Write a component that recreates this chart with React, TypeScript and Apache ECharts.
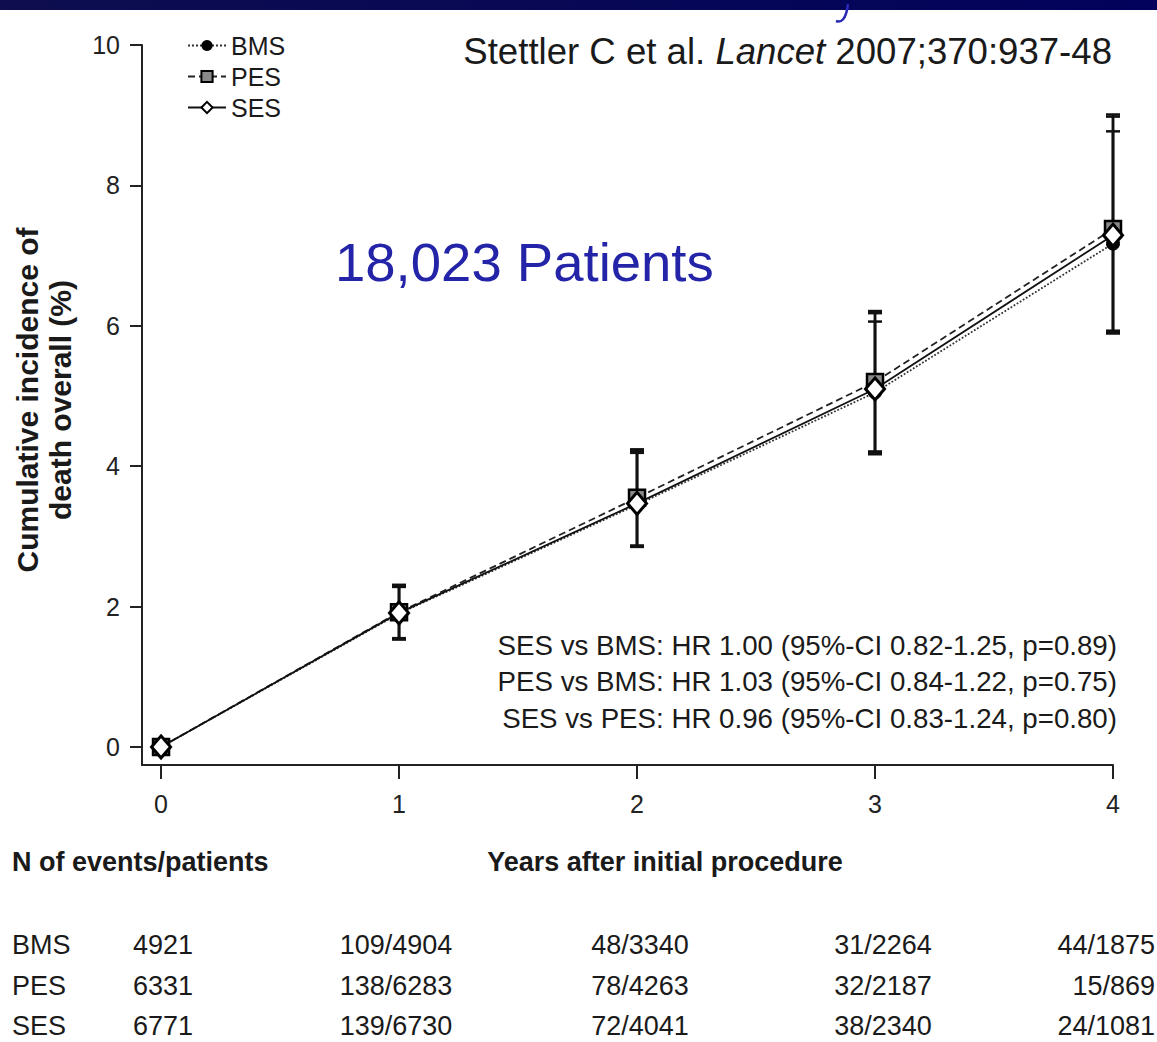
import React, { useEffect, useRef } from "react";
import * as echarts from "echarts";

const years = [0, 1, 2, 3, 4];
const yTicks = [0, 2, 4, 6, 8, 10];

const bmsMean = [0, 1.9, 3.45, 5.05, 7.17];
const pesMean = [0, 1.92, 3.55, 5.2, 7.38];
const sesMean = [0, 1.91, 3.47, 5.1, 7.29];

const bmsLo = [0, 1.55, 2.86, 4.21, 5.93];
const bmsHi = [0, 2.28, 4.19, 6.06, 8.77];
const pesLo = [0, 1.53, 2.85, 4.17, 5.89];
const pesHi = [0, 2.31, 4.24, 6.21, 9.01];
const sesLo = [0, 1.54, 2.87, 4.19, 5.91];
const sesHi = [0, 2.3, 4.22, 6.18, 8.98];

const tableGroups = ["BMS", "PES", "SES"];
const tableRows = [
  ["4921", "109/4904", "48/3340", "31/2264", "44/1875"],
  ["6331", "138/6283", "78/4263", "32/2187", "15/869"],
  ["6771", "139/6730", "72/4041", "38/2340", "24/1081"],
];

const hrLines = [
  "SES vs BMS: HR 1.00 (95%-CI 0.82-1.25, p=0.89)",
  "PES vs BMS: HR 1.03 (95%-CI 0.84-1.22, p=0.75)",
  "SES vs PES: HR 0.96 (95%-CI 0.83-1.24, p=0.80)",
];

const FONT = "'Liberation Sans', Arial, sans-serif";
const INK = "#1a1a1a";

function pairs(xs: number[], ys: number[]) {
  return xs.map((x, i) => [x, ys[i]]);
}
function errData(lo: number[], hi: number[]) {
  return years.filter((y) => y > 0).map((y) => [y, lo[y], hi[y]]);
}

export default function App() {
  const ref = useRef<HTMLDivElement>(null);
  useEffect(() => {
    const chart = echarts.init(ref.current!, null, { renderer: "svg" });

    const errRender = (params: any, api: any) => {
      const x = api.value(0);
      const lo = api.coord([x, api.value(1)]);
      const hi = api.coord([x, api.value(2)]);
      const c = 7;
      const st = { stroke: "#111", lineWidth: 2.5 };
      return {
        type: "group",
        children: [
          { type: "line", shape: { x1: lo[0], y1: lo[1], x2: hi[0], y2: hi[1] }, style: st },
          { type: "line", shape: { x1: lo[0] - c, y1: lo[1], x2: lo[0] + c, y2: lo[1] }, style: st },
          { type: "line", shape: { x1: hi[0] - c, y1: hi[1], x2: hi[0] + c, y2: hi[1] }, style: st },
        ],
      };
    };

    const textGraphics: any[] = [];
    const rowY = [945, 986, 1026];
    const colX = [133, 396, 640, 883, 1155];
    tableGroups.forEach((g, r) => {
      textGraphics.push({
        type: "text",
        x: 12,
        y: rowY[r],
        style: { text: g, font: `27px ${FONT}`, fill: INK, verticalAlign: "middle", align: "left" },
      });
      tableRows[r].forEach((t, c) => {
        const align = c === 0 ? "left" : c === 4 ? "right" : "center";
        textGraphics.push({
          type: "text",
          x: colX[c],
          y: rowY[r],
          style: { text: t, font: `27px ${FONT}`, fill: INK, verticalAlign: "middle", align },
        });
      });
    });
    hrLines.forEach((t, i) => {
      textGraphics.push({
        type: "text",
        x: 1117,
        y: 645 + i * 36.5,
        style: { text: t, font: `27.7px ${FONT}`, fill: INK, verticalAlign: "middle", align: "right" },
      });
    });

    chart.setOption({
      animation: false,
      backgroundColor: "#ffffff",
      grid: { left: 142, top: 45, width: 971, height: 720 },
      legend: {
        data: ["BMS", "PES", "SES"],
        orient: "vertical",
        left: 182,
        top: 28,
        itemWidth: 38,
        itemHeight: 14,
        itemGap: 6,
        textStyle: { fontSize: 25, color: INK, fontFamily: FONT, padding: [0, 0, 0, 0] },
      },
      xAxis: {
        type: "value",
        min: -0.08,
        max: 4,
        splitLine: { show: false },
        axisLine: { onZero: false, lineStyle: { color: "#222", width: 2 } },
        axisTick: { customValues: years, length: 14, lineStyle: { color: "#222", width: 2 } },
        axisLabel: { customValues: years, fontSize: 25, color: "#222", fontFamily: FONT, margin: 26 },
      },
      yAxis: {
        type: "value",
        min: -0.257,
        max: 10,
        splitLine: { show: false },
        axisLine: { show: true, onZero: false, lineStyle: { color: "#222", width: 2 } },
        axisTick: { show: true, customValues: yTicks, length: 12, lineStyle: { color: "#222", width: 2 } },
        axisLabel: { customValues: yTicks, fontSize: 25, color: "#222", fontFamily: FONT, margin: 22 },
      },
      graphic: [
        {
          type: "rect",
          shape: { x: 0, y: 0, width: 1157, height: 10 },
          style: {
            fill: new echarts.graphic.LinearGradient(0, 0, 1, 0, [
              { offset: 0, color: "#0d0d4f" },
              { offset: 1, color: "#02025c" },
            ]),
          },
        },
        {
          type: "bezierCurve",
          shape: { x1: 848, y1: 4, x2: 836, y2: 21, cpx1: 846, cpy1: 20, cpx2: 841, cpy2: 23 },
          style: { stroke: "#2a2ab8", lineWidth: 2.5, fill: null },
        },
        {
          type: "text",
          x: 1112,
          y: 51,
          style: {
            text: "{a|Stettler C et al. }{b|Lancet}{a| 2007;370:937-48}",
            align: "right",
            verticalAlign: "middle",
            rich: {
              a: { font: `36.6px ${FONT}`, fill: INK },
              b: { font: `italic 36.6px ${FONT}`, fill: INK },
            },
          },
        },
        {
          type: "text",
          x: 335,
          y: 262,
          style: { text: "18,023 Patients", font: `54.5px ${FONT}`, fill: "#2424a8", verticalAlign: "middle" },
        },
        {
          type: "text",
          x: 44,
          y: 400,
          rotation: Math.PI / 2,
          style: {
            text: "Cumulative incidence of\ndeath overall (%)",
            font: `bold 30px ${FONT}`,
            fill: INK,
            align: "center",
            verticalAlign: "middle",
            lineHeight: 33,
          },
        },
        {
          type: "text",
          x: 12,
          y: 862,
          style: { text: "N of events/patients", font: `bold 27px ${FONT}`, fill: INK, verticalAlign: "middle" },
        },
        {
          type: "text",
          x: 665,
          y: 862,
          style: {
            text: "Years after initial procedure",
            font: `bold 27px ${FONT}`,
            fill: INK,
            align: "center",
            verticalAlign: "middle",
          },
        },
        ...textGraphics,
      ],
      series: [
        { type: "custom", name: "BMS err", renderItem: errRender, data: errData(bmsLo, bmsHi), encode: { x: 0, y: [1, 2] }, z: 1 },
        { type: "custom", name: "PES err", renderItem: errRender, data: errData(pesLo, pesHi), encode: { x: 0, y: [1, 2] }, z: 1 },
        { type: "custom", name: "SES err", renderItem: errRender, data: errData(sesLo, sesHi), encode: { x: 0, y: [1, 2] }, z: 1 },
        {
          type: "line",
          name: "BMS",
          data: pairs(years, bmsMean),
          symbol: "circle",
          symbolSize: 13,
          lineStyle: { type: "dotted", width: 1.8, color: "#333" },
          itemStyle: { color: "#000", borderColor: "#000" },
          z: 3,
        },
        {
          type: "line",
          name: "PES",
          data: pairs(years, pesMean),
          symbol: "rect",
          symbolSize: 16,
          lineStyle: { type: [7, 4], width: 1.8, color: "#222" },
          itemStyle: { color: "#8a8a8a", borderColor: "#000", borderWidth: 2.5 },
          z: 4,
        },
        {
          type: "line",
          name: "SES",
          data: pairs(years, sesMean),
          symbol: "diamond",
          symbolSize: [19, 22],
          lineStyle: { type: "solid", width: 1.8, color: "#111" },
          itemStyle: { color: "#fff", borderColor: "#000", borderWidth: 3 },
          z: 5,
        },
      ],
    });
    return () => chart.dispose();
  }, []);
  return (
    <div
      ref={ref}
      style={{ position: "fixed", left: 0, top: 0, width: 1157, height: 1042, background: "#fff" }}
    />
  );
}
